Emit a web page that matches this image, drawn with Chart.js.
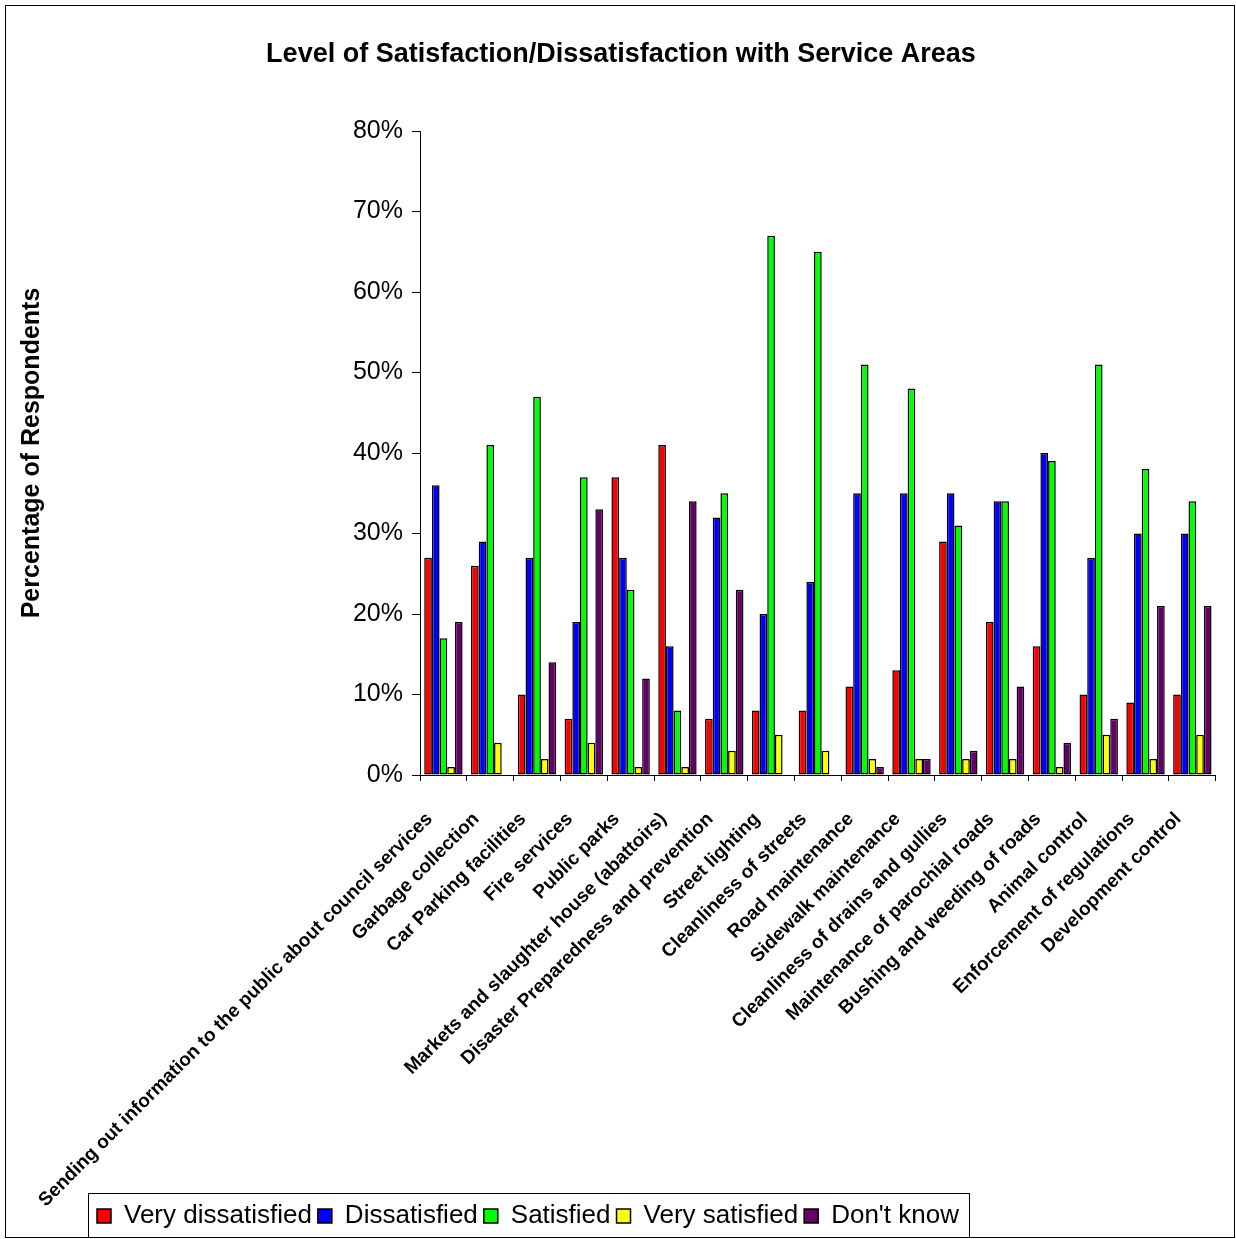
<!DOCTYPE html>
<html>
<head>
<meta charset="utf-8">
<title>Level of Satisfaction/Dissatisfaction with Service Areas</title>
<script src="https://cdn.jsdelivr.net/npm/chart.js@4/dist/chart.umd.min.js"></script>
<style>
  html, body { margin: 0; padding: 0; background: #fff; }
  #wrap { width: 1236px; height: 1239px; position: relative; }
  canvas { display: block; }
</style>
</head>
<body>
<div id="wrap"><canvas id="chart" width="1236" height="1239"></canvas></div>
<script>
// Service areas (x-axis categories)
const categories = [
  'Sending out information to the public about council services',
  'Garbage collection',
  'Car Parking facilities',
  'Fire services',
  'Public parks',
  'Markets and slaughter house (abattoirs)',
  'Disaster Preparedness and prevention',
  'Street lighting',
  'Cleanliness of streets',
  'Road maintenance',
  'Sidewalk maintenance',
  'Cleanliness of drains and gullies',
  'Maintenance of parochial roads',
  'Bushing and weeding of roads',
  'Animal control',
  'Enforcement of regulations',
  'Development control'
];

// Percentage of respondents per answer
const veryDissatisfied = [27, 26, 10, 7, 37, 41, 7, 8, 8, 11, 13, 29, 19, 16, 10, 9, 10];
const dissatisfied     = [36, 29, 27, 19, 27, 16, 32, 20, 24, 35, 35, 35, 34, 40, 27, 30, 30];
const satisfied        = [17, 41, 47, 37, 23, 8, 35, 67, 65, 51, 48, 31, 34, 39, 51, 38, 34];
const verySatisfied    = [1, 4, 2, 4, 1, 1, 3, 5, 3, 2, 2, 2, 2, 1, 5, 2, 5];
const dontKnow         = [19, 0, 14, 33, 12, 34, 23, 0, 0, 1, 2, 3, 11, 4, 7, 21, 21];

const seriesNames = ['Very dissatisfied', 'Dissatisfied', 'Satisfied', 'Very satisfied', "Don't know"];
const yTickValues = [0, 10, 20, 30, 40, 50, 60, 70, 80];

const FONT = '"Liberation Sans", Arial, Helvetica, sans-serif';
const colors = ['#FF0000', '#0000FF', '#00FF00', '#FFFF00', '#660066'];
const seriesData = [veryDissatisfied, dissatisfied, satisfied, verySatisfied, dontKnow];

const datasets = seriesNames.map((name, i) => ({
  label: name,
  data: seriesData[i],
  backgroundColor: colors[i],
  borderColor: '#000000',
  borderWidth: 1.5,
  borderSkipped: false,
  categoryPercentage: 0.82,
  barPercentage: 1.0
}));

// Page frame, legend outline and placement of the title/legend blocks
const framePlugin = {
  id: 'frame',
  beforeDraw(chart) {
    const ctx = chart.ctx;
    ctx.save();
    ctx.fillStyle = '#ffffff';
    ctx.fillRect(0, 0, chart.width, chart.height);
    ctx.restore();
  },
  afterLayout(chart) {
    const t = chart.titleBlock;
    if (t) { t.left += 12; t.right += 12; }
    const lg = chart.legend;
    if (lg) { lg.left += 91; lg.right += 91; }
    // let the long rotated category names run down past the legend's top edge
    const xs = chart.scales.x;
    if (xs) { xs.bottom = chart.height; }
  },
  afterDraw(chart) {
    const ctx = chart.ctx;
    ctx.save();
    ctx.strokeStyle = '#000000';
    ctx.lineWidth = 1;
    ctx.strokeRect(5.5, 5.5, 1229, 1232);
    const lg = chart.legend;
    if (lg && lg.lineWidths) {
      const pad = lg.options.labels.padding;
      const x0 = Math.round(lg.left + pad - 9);
      const x1 = Math.round(lg.left + lg.lineWidths[0] + 10);
      const y0 = Math.round(lg.top - 4);
      ctx.strokeRect(x0 + 0.5, y0 + 0.5, x1 - x0, 1237 - y0);
    }
    ctx.restore();
  }
};

new Chart(document.getElementById('chart'), {
  type: 'bar',
  data: { labels: categories, datasets },
  plugins: [framePlugin],
  options: {
    responsive: false,
    animation: false,
    devicePixelRatio: 1,
    layout: { padding: { left: 0, right: 18, top: 0, bottom: 0 } },
    plugins: {
      tooltip: { enabled: false },
      title: {
        display: true,
        text: 'Level of Satisfaction/Dissatisfaction with Service Areas',
        color: '#000000',
        font: { family: FONT, size: 27, weight: 'bold' },
        padding: { top: 38, bottom: 60.6 }
      },
      legend: {
        display: true,
        position: 'bottom',
        align: 'start',
        labels: {
          color: '#000000',
          font: { family: FONT, size: 26 },
          boxWidth: 14,
          boxHeight: 14,
          padding: 6
        }
      }
    },
    scales: {
      x: {
        offset: true,
        grid: {
          offset: true,
          drawOnChartArea: false,
          drawTicks: true,
          tickLength: 6,
          color: '#000000'
        },
        border: { display: true, color: '#000000', width: 1 },
        ticks: {
          color: '#000000',
          font: { family: FONT, size: 19, weight: 'bold' },
          autoSkip: false,
          minRotation: 45,
          maxRotation: 45,
          padding: 27,
          labelOffset: -14
        },
        afterFit(scale) { scale.height = 422; }
      },
      y: {
        min: 0,
        max: 80,
        afterBuildTicks(scale) {
          scale.ticks = yTickValues.map(v => ({ value: v }));
        },
        grid: {
          drawOnChartArea: false,
          drawTicks: true,
          tickLength: 8,
          color: '#000000'
        },
        border: { display: true, color: '#000000', width: 1 },
        ticks: {
          color: '#000000',
          font: { family: FONT, size: 25 },
          padding: 9,
          callback: v => v + '%'
        },
        title: {
          display: true,
          text: 'Percentage of Respondents',
          color: '#000000',
          font: { family: FONT, size: 25, weight: 'bold' },
          padding: { top: 17, bottom: 0 }
        },
        afterFit(scale) { scale.width = 420; }
      }
    }
  }
});
</script>
</body>
</html>
